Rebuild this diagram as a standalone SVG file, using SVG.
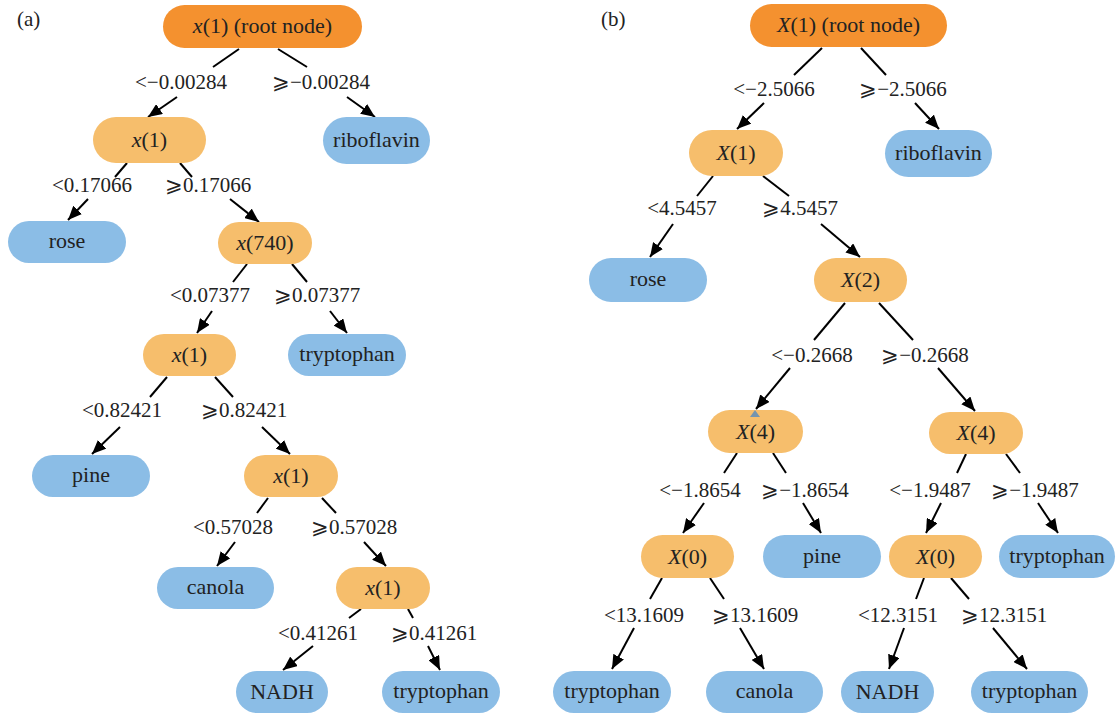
<svg xmlns="http://www.w3.org/2000/svg" width="1116" height="716" viewBox="0 0 1116 716" font-family="'Liberation Serif', 'Times New Roman', serif">
<style>
text{font-size:21px;fill:#222;text-anchor:middle}
g[id] text{font-size:22px}
.it{font-style:italic}
.root{fill:#F4912F}
.int{fill:#F6BE6C}
.leaf{fill:#8BBDE6}
.c line{stroke:#000;stroke-width:2}
.c line.a{marker-end:url(#ah)}
.pl{text-anchor:start}
</style>
<defs>
<marker id="ah" markerUnits="userSpaceOnUse" markerWidth="14" markerHeight="12" viewBox="0 0 14 12" refX="14" refY="6" orient="auto">
<path d="M0,0 L14,6 L0,12 z" fill="#000"/>
</marker>
</defs>
<rect width="1116" height="716" fill="#fff"/>
<text class="pl" x="17" y="26">(a)</text>
<text class="pl" x="601" y="26">(b)</text>

<g class="c" id="connectors">
<line x1="239" y1="49" x2="213" y2="67"/><line class="a" x1="177" y1="97" x2="148" y2="117"/>
<line x1="278" y1="49" x2="307" y2="67"/><line class="a" x1="347" y1="97" x2="375" y2="117"/>
<line x1="127" y1="163" x2="115" y2="177"/><line class="a" x1="88" y1="199" x2="68" y2="220"/>
<line x1="180" y1="163" x2="192" y2="177"/><line class="a" x1="230" y1="199" x2="259" y2="222"/>
<line x1="247" y1="264" x2="233" y2="282"/><line class="a" x1="212" y1="311" x2="197" y2="333"/>
<line x1="292" y1="264" x2="307" y2="282"/><line class="a" x1="330" y1="311" x2="347" y2="333"/>
<line x1="167" y1="377" x2="150" y2="397"/><line class="a" x1="120" y1="427" x2="92" y2="454"/>
<line x1="215" y1="377" x2="233" y2="397"/><line class="a" x1="262" y1="427" x2="290" y2="454"/>
<line x1="268" y1="498" x2="257" y2="513"/><line class="a" x1="235" y1="542" x2="217" y2="566"/>
<line x1="322" y1="498" x2="336" y2="513"/><line class="a" x1="364" y1="542" x2="386" y2="566"/>
<line x1="361" y1="609" x2="349" y2="618"/><line class="a" x1="313" y1="646" x2="283" y2="670"/>
<line x1="408" y1="609" x2="413" y2="618"/><line class="a" x1="428" y1="646" x2="440" y2="670"/>
<line x1="822" y1="48" x2="794" y2="75"/><line class="a" x1="764" y1="103" x2="737" y2="129"/>
<line x1="861" y1="48" x2="886" y2="75"/><line class="a" x1="915" y1="103" x2="939" y2="129"/>
<line x1="713" y1="176" x2="697" y2="196"/><line class="a" x1="673" y1="224" x2="650" y2="257"/>
<line x1="763" y1="176" x2="789" y2="196"/><line class="a" x1="821" y1="224" x2="860" y2="257"/>
<line x1="845" y1="303" x2="814" y2="340"/><line class="a" x1="790" y1="368" x2="756" y2="409"/>
<line x1="879" y1="303" x2="913" y2="340"/><line class="a" x1="938" y1="368" x2="975" y2="411"/>
<line x1="737" y1="453" x2="724" y2="473"/><line class="a" x1="704" y1="503" x2="683" y2="533"/>
<line x1="773" y1="453" x2="786" y2="473"/><line class="a" x1="803" y1="503" x2="821" y2="533"/>
<line x1="966" y1="454" x2="957" y2="473"/><line class="a" x1="941" y1="503" x2="926" y2="533"/>
<line x1="1006" y1="454" x2="1020" y2="473"/><line class="a" x1="1038" y1="503" x2="1058" y2="533"/>
<line x1="662" y1="578" x2="650" y2="599"/><line class="a" x1="634" y1="628" x2="612" y2="669"/>
<line x1="710" y1="578" x2="724" y2="599"/><line class="a" x1="740" y1="628" x2="764" y2="669"/>
<line x1="924" y1="578" x2="916" y2="599"/><line class="a" x1="904" y1="628" x2="889" y2="669"/>
<line x1="951" y1="578" x2="969" y2="599"/><line class="a" x1="993" y1="628" x2="1027" y2="669"/>
</g>

<g class="labels">
<text x="181" y="89">&lt;−0.00284</text>
<text x="321" y="89">⩾−0.00284</text>
<text x="92" y="192">&lt;0.17066</text>
<text x="208" y="192">⩾0.17066</text>
<text x="210" y="302">&lt;0.07377</text>
<text x="317" y="302">⩾0.07377</text>
<text x="122" y="417">&lt;0.82421</text>
<text x="244" y="417">⩾0.82421</text>
<text x="233" y="534">&lt;0.57028</text>
<text x="354" y="534">⩾0.57028</text>
<text x="318" y="640">&lt;0.41261</text>
<text x="434" y="640">⩾0.41261</text>
<text x="774" y="96">&lt;−2.5066</text>
<text x="903" y="96">⩾−2.5066</text>
<text x="682" y="215">&lt;4.5457</text>
<text x="800" y="215">⩾4.5457</text>
<text x="812" y="362">&lt;−0.2668</text>
<text x="925" y="362">⩾−0.2668</text>
<text x="700" y="497">&lt;−1.8654</text>
<text x="805" y="497">⩾−1.8654</text>
<text x="930" y="497">&lt;−1.9487</text>
<text x="1035" y="497">⩾−1.9487</text>
<text x="644" y="622">&lt;13.1609</text>
<text x="755" y="622">⩾13.1609</text>
<text x="898" y="622">&lt;12.3151</text>
<text x="1004" y="622">⩾12.3151</text>
</g>

<g id="a-root"><rect class="root" x="163" y="5" width="199" height="43" rx="21.5"/><text x="262.5" y="33"><tspan class="it">x</tspan>(1) (root node)</text></g>
<g id="a-n1"><rect class="int" x="93" y="117" width="113" height="46" rx="23"/><text x="149.5" y="147"><tspan class="it">x</tspan>(1)</text></g>
<g id="a-riboflavin"><rect class="leaf" x="323" y="117" width="107" height="47" rx="23.5"/><text x="376.5" y="147">riboflavin</text></g>
<g id="a-rose"><rect class="leaf" x="8" y="221" width="118" height="42" rx="21"/><text x="67" y="248">rose</text></g>
<g id="a-n2"><rect class="int" x="218" y="222" width="94" height="42" rx="21"/><text x="265" y="250"><tspan class="it">x</tspan>(740)</text></g>
<g id="a-n3"><rect class="int" x="143" y="334" width="93" height="42" rx="21"/><text x="189.5" y="362"><tspan class="it">x</tspan>(1)</text></g>
<g id="a-tryptophan1"><rect class="leaf" x="288" y="334" width="118" height="42" rx="21"/><text x="347" y="361">tryptophan</text></g>
<g id="a-pine"><rect class="leaf" x="32" y="455" width="118" height="42" rx="21"/><text x="91" y="482">pine</text></g>
<g id="a-n4"><rect class="int" x="244" y="455" width="94" height="42" rx="21"/><text x="291" y="483"><tspan class="it">x</tspan>(1)</text></g>
<g id="a-canola"><rect class="leaf" x="157" y="567" width="117" height="42" rx="21"/><text x="215.5" y="594">canola</text></g>
<g id="a-n5"><rect class="int" x="336" y="567" width="94" height="42" rx="21"/><text x="383" y="595"><tspan class="it">x</tspan>(1)</text></g>
<g id="a-nadh"><rect class="leaf" x="236" y="671" width="92" height="42" rx="21"/><text x="282" y="699">NADH</text></g>
<g id="a-tryptophan2"><rect class="leaf" x="382" y="671" width="118" height="42" rx="21"/><text x="441" y="698">tryptophan</text></g>

<g id="b-root"><rect class="root" x="750" y="4" width="197" height="43" rx="21.5"/><text x="848.5" y="32"><tspan class="it">X</tspan>(1) (root node)</text></g>
<g id="b-n1"><rect class="int" x="689" y="130" width="94" height="46" rx="23"/><text x="736" y="160"><tspan class="it">X</tspan>(1)</text></g>
<g id="b-riboflavin"><rect class="leaf" x="885" y="130" width="107" height="47" rx="23.5"/><text x="938.5" y="160">riboflavin</text></g>
<g id="b-rose"><rect class="leaf" x="589" y="258" width="118" height="44" rx="22"/><text x="648" y="286">rose</text></g>
<g id="b-n2"><rect class="int" x="814" y="258" width="93" height="44" rx="22"/><text x="860.5" y="287"><tspan class="it">X</tspan>(2)</text></g>
<g id="b-n3"><rect class="int" x="708" y="410" width="95" height="43" rx="21.5"/><text x="755.5" y="439"><tspan class="it">X</tspan>(4)</text><path d="M755,410 L760,417 L750,417 z" fill="#7494AE"/></g>
<g id="b-n4"><rect class="int" x="929" y="412" width="94" height="42" rx="21"/><text x="976" y="440"><tspan class="it">X</tspan>(4)</text></g>
<g id="b-n5"><rect class="int" x="641" y="535" width="93" height="43" rx="21.5"/><text x="687.5" y="564"><tspan class="it">X</tspan>(0)</text></g>
<g id="b-pine"><rect class="leaf" x="763" y="535" width="118" height="43" rx="21.5"/><text x="822" y="563">pine</text></g>
<g id="b-n6"><rect class="int" x="889" y="535" width="93" height="43" rx="21.5"/><text x="935.5" y="564"><tspan class="it">X</tspan>(0)</text></g>
<g id="b-tryptophan1"><rect class="leaf" x="999" y="535" width="116" height="43" rx="21.5"/><text x="1057" y="563">tryptophan</text></g>
<g id="b-tryptophan2"><rect class="leaf" x="553" y="671" width="118" height="42" rx="21"/><text x="612" y="698">tryptophan</text></g>
<g id="b-canola"><rect class="leaf" x="706" y="671" width="117" height="42" rx="21"/><text x="764.5" y="698">canola</text></g>
<g id="b-nadh"><rect class="leaf" x="841" y="671" width="93" height="42" rx="21"/><text x="887.5" y="699">NADH</text></g>
<g id="b-tryptophan3"><rect class="leaf" x="971" y="671" width="117" height="42" rx="21"/><text x="1029.5" y="698">tryptophan</text></g>
</svg>
